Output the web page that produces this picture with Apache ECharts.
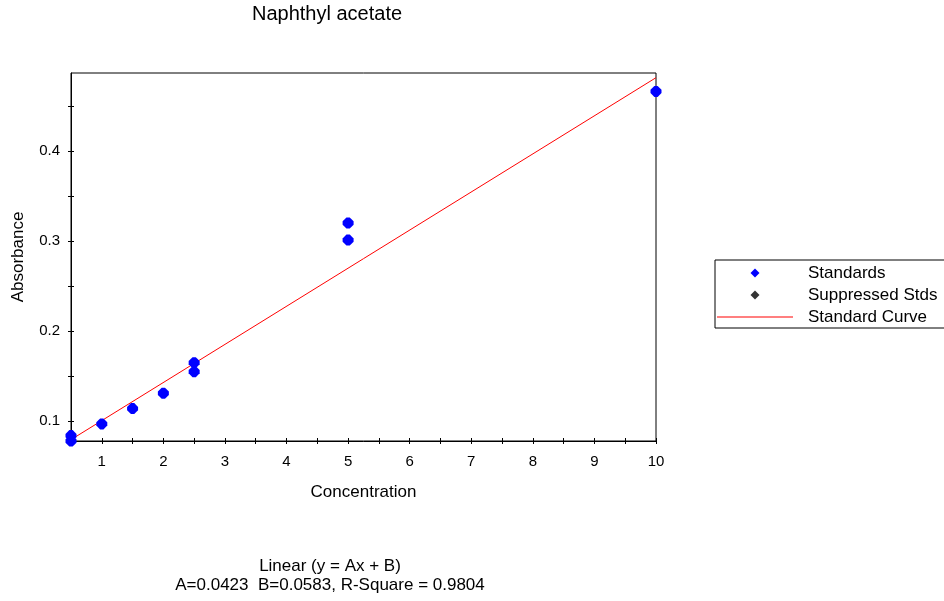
<!DOCTYPE html>
<html>
<head>
<meta charset="utf-8">
<script src="https://cdn.jsdelivr.net/npm/echarts@6/dist/echarts.min.js"></script>
<style>
  html, body { margin: 0; padding: 0; background: #fff; }
  #chart { width: 944px; height: 601px; }
</style>
</head>
<body>
<div id="chart"></div>
<script>
// standards
const concentrations = [0.5, 0.5, 1, 1.5, 2, 2.5, 2.5, 5, 5, 10]
const absorbances = [0.084, 0.078, 0.097, 0.114, 0.131, 0.165, 0.155, 0.320, 0.301, 0.466]
const suppressed = []

// fitted line, y = 0.0423x + 0.0583, drawn between its two ends
const curveX = [0.5, 10]
const curveY = [0.0795, 0.4813]

const xTicks = [0.5, 1, 1.5, 2, 2.5, 3, 3.5, 4, 4.5, 5, 5.5, 6, 6.5, 7, 7.5, 8, 8.5, 9, 9.5, 10]
const xLabels = [1, 2, 3, 4, 5, 6, 7, 8, 9, 10]
const yTicks = [0.1, 0.15, 0.2, 0.25, 0.3, 0.35, 0.4, 0.45]
const yLabels = [0.1, 0.2, 0.3, 0.4]

const fitText = ['Linear (y = Ax + B)', 'A=0.0423  B=0.0583, R-Square = 0.9804']

const font = "'Liberation Sans', Arial, sans-serif"
const diamondIcon = 'path://M5,0 L10,5 L5,10 L0,5 Z'
const lineIcon = 'path://M0,0 L70,0 L70,1 L0,1 Z'
const pointShape = 'path://M3.5,0 L6.5,0 L10,3.5 L10,6.5 L6.5,10 L3.5,10 L0,6.5 L0,3.5 Z'

const chart = echarts.init(document.getElementById('chart'))

function xAxisOf(inside, withLabels) {
  return {
    type: 'value',
    min: 0.5,
    max: 10,
    position: 'bottom',
    name: withLabels ? 'Concentration' : '',
    nameLocation: 'middle',
    nameGap: 43,
    nameTextStyle: { fontSize: 17, color: '#000', fontFamily: font },
    axisLine: { show: withLabels, lineStyle: { color: '#000', width: 1 } },
    axisTick: {
      show: true,
      inside: inside,
      length: 3,
      customValues: xTicks,
      lineStyle: { color: '#000', width: 1 }
    },
    axisLabel: {
      show: withLabels,
      customValues: xLabels,
      margin: 13,
      fontSize: 15,
      color: '#000',
      fontFamily: font
    },
    splitLine: { show: false }
  }
}

function yAxisOf(inside, withLabels) {
  return {
    type: 'value',
    min: 0.078,
    max: 0.4865,
    position: 'left',
    name: withLabels ? 'Absorbance' : '',
    nameLocation: 'middle',
    nameGap: 44,
    nameTextStyle: { fontSize: 17, color: '#000', fontFamily: font },
    axisLine: { show: withLabels, lineStyle: { color: '#000', width: 1 } },
    axisTick: {
      show: true,
      inside: inside,
      length: 3,
      customValues: yTicks,
      lineStyle: { color: '#000', width: 1 }
    },
    axisLabel: {
      show: withLabels,
      customValues: yLabels,
      margin: 11,
      fontSize: 15,
      color: '#000',
      fontFamily: font,
      formatter: v => v.toFixed(1)
    },
    splitLine: { show: false }
  }
}

chart.setOption({
  animation: false,
  backgroundColor: '#fff',
  title: {
    text: 'Naphthyl acetate',
    left: 252,
    top: 4,
    padding: 0,
    textStyle: { fontSize: 20, fontWeight: 'normal', color: '#000', fontFamily: font }
  },
  grid: {
    left: 71,
    right: 288,
    top: 73,
    bottom: 160,
    show: true,
    borderColor: '#000',
    borderWidth: 1,
    backgroundColor: 'transparent'
  },
  xAxis: [xAxisOf(false, true), xAxisOf(true, false)],
  yAxis: [yAxisOf(false, true), yAxisOf(true, false)],
  legend: {
    orient: 'vertical',
    left: 715,
    top: 260,
    padding: [4, 30, 2, 2],
    itemWidth: 76,
    itemHeight: 9,
    itemGap: 4,
    symbolKeepAspect: true,
    borderColor: '#000',
    borderWidth: 1,
    textStyle: {
      fontSize: 17,
      color: '#000',
      fontFamily: font,
      lineHeight: 18,
      padding: [0, 0, 0, 10]
    },
    data: [
      { name: 'Standards', icon: diamondIcon },
      { name: 'Suppressed Stds', icon: diamondIcon },
      { name: 'Standard Curve', icon: 'path://M0,0 L76,0 L76,1 L0,1 Z' }
    ]
  },
  graphic: [
    {
      type: 'text',
      x: 330,
      y: 557,
      style: {
        text: fitText.join('\n'),
        x: 0,
        y: 0,
        textAlign: 'center',
        fontSize: 17,
        lineHeight: 19,
        fill: '#000',
        fontFamily: font
      }
    }
  ],
  series: [
    {
      name: 'Standard Curve',
      type: 'line',
      data: curveX.map((x, i) => [x, curveY[i]]),
      symbol: 'none',
      lineStyle: { color: '#ff0000', width: 1 },
      itemStyle: { color: '#ff0000' },
      z: 2
    },
    {
      name: 'Standards',
      type: 'scatter',
      data: concentrations.map((x, i) => [x, absorbances[i]]),
      symbol: pointShape,
      symbolSize: 11,
      symbolKeepAspect: true,
      itemStyle: { color: '#0000ff', opacity: 1 },
      z: 3
    },
    {
      name: 'Suppressed Stds',
      type: 'scatter',
      data: suppressed,
      symbol: 'diamond',
      symbolSize: 9,
      symbolKeepAspect: true,
      itemStyle: { color: '#000' }
    }
  ]
})
</script>
</body>
</html>
